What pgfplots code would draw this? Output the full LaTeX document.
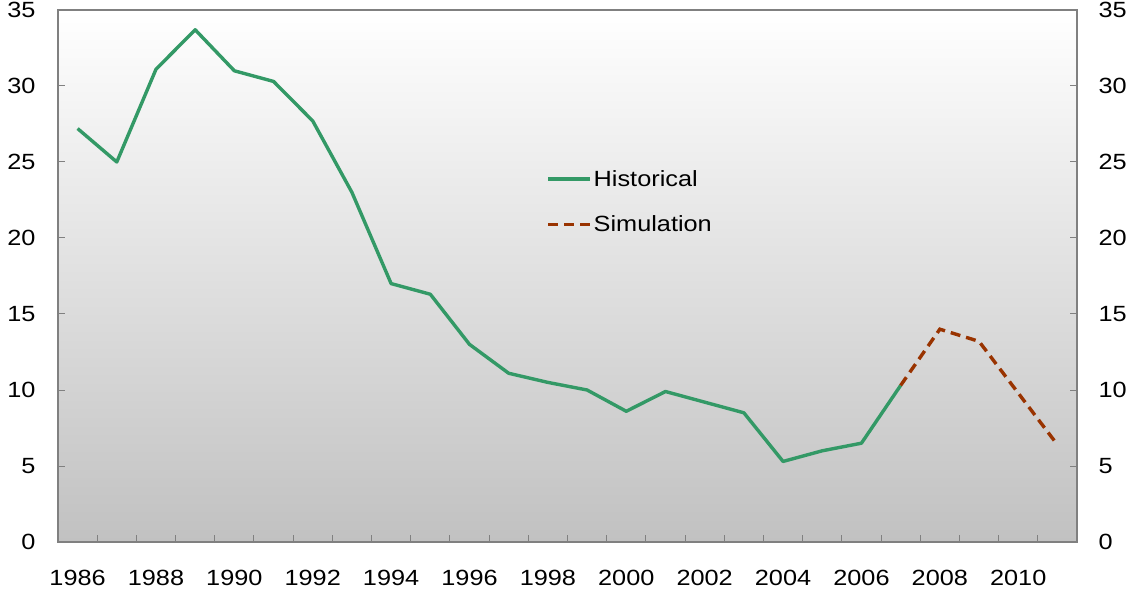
\documentclass[border=0pt]{standalone}
\usepackage{fontspec}
\setmainfont{Liberation Sans}[FakeStretch=1.15]
\usepackage{pgfplots}
\pgfplotsset{compat=1.18}
\definecolor{histgreen}{RGB}{51,153,102}
\definecolor{simbrown}{RGB}{153,51,0}
\definecolor{axgray}{RGB}{128,128,128}
\begin{document}
\begin{tikzpicture}[x=1pt,y=1pt]
\begin{axis}[
  at={(0pt,0pt)}, anchor=south west,
  scale only axis, width=1019pt, height=532pt,
  xmin=1985.5, xmax=2011.5, ymin=0, ymax=35,
  axis line style={draw=axgray, line width=1.6pt},
  axis background/.style={top color=white, bottom color={rgb,255:red,193;green,193;blue,193}},
  xtick={1986,1988,...,2010},
  minor xtick={1986.5,1987.5,...,2010.5},
  major x tick style={draw=none},
  minor x tick style={draw=axgray, line width=1pt},
  minor tick length=7pt,
  ytick={0,5,...,35},
  major y tick style={draw=axgray, line width=1pt},
  major tick length=7pt,
  tick align=inside,
  ytick pos=both,
  yticklabel pos=left,
  xtick pos=bottom,
  /pgf/number format/assume math mode=true,
  /pgf/number format/1000 sep={},
  tick label style={font=\fontsize{22}{26}\selectfont},
  xticklabel style={yshift=-25pt},
  yticklabel style={xshift=-19pt},
  legend style={draw=none, fill=none, at={(rel axis cs:0.479,0.703)}, anchor=north west,
    font=\fontsize{22}{26}\selectfont, row sep=24pt, inner sep=0pt,
    nodes={inner sep=2pt}},
  legend cell align=left,
  legend image code/.code={\draw[#1] (0pt,0pt) -- (42pt,0pt);},
]
\addplot[histgreen, line width=3.4pt, line join=round] coordinates {
(1986,27.2) (1987,25.0) (1988,31.1) (1989,33.7) (1990,31.0) (1991,30.3)
(1992,27.7) (1993,23.0) (1994,17.0) (1995,16.3) (1996,13.0) (1997,11.1)
(1998,10.5) (1999,10.0) (2000,8.6) (2001,9.9) (2002,9.2) (2003,8.5)
(2004,5.3) (2005,6.0) (2006,6.5) (2007,10.3)};
\addlegendentry{Historical}
\addplot[simbrown, line width=3.4pt, dash pattern=on 10pt off 6pt] coordinates {
(2007,10.3) (2008,14.0) (2009,13.2) (2010,9.8) (2011,6.4)};
\addlegendentry{Simulation}
\end{axis}
\begin{axis}[
  at={(0pt,0pt)}, anchor=south west,
  scale only axis, width=1019pt, height=532pt,
  xmin=1985.5, xmax=2011.5, ymin=0, ymax=35,
  hide x axis, axis y line*=right, axis line style={draw=none},
  ytick={0,5,...,35}, major tick length=0pt,
  /pgf/number format/assume math mode=true,
  tick label style={font=\fontsize{22}{26}\selectfont},
  yticklabel style={xshift=18pt},
]
\addplot[draw=none] coordinates {(1986,0)};
\end{axis}
\pgfresetboundingbox
\path[use as bounding box] (-58pt,-50pt) rectangle (1075pt,542pt);
\end{tikzpicture}
\end{document}
